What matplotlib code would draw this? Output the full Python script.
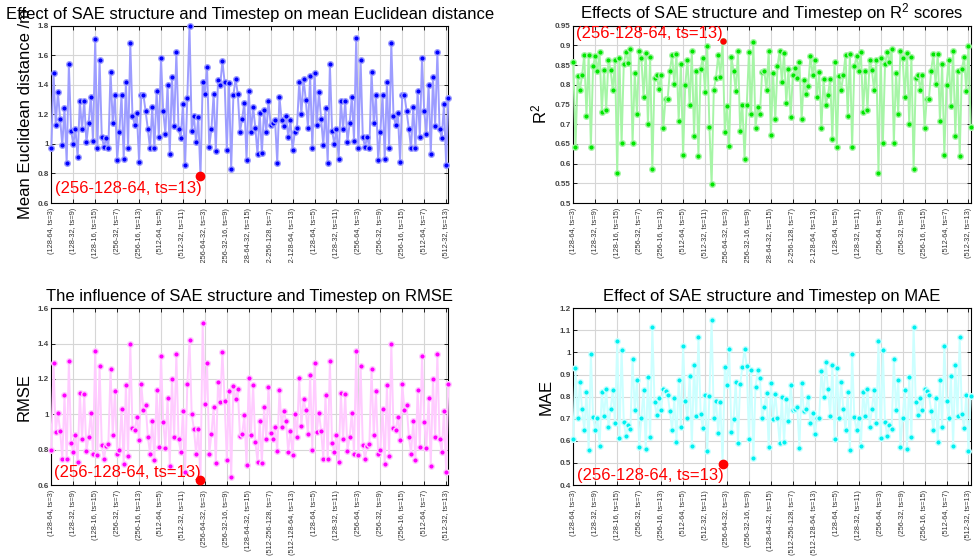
import matplotlib
matplotlib.use("Agg")
import matplotlib.pyplot as plt
import numpy as np
from matplotlib.patches import Rectangle
from matplotlib.ticker import FuncFormatter

plt.rcParams["font.family"] = ["Liberation Sans", "DejaVu Sans"]
plt.rcParams["mathtext.fontset"] = "custom"
plt.rcParams["mathtext.rm"] = "Liberation Sans"
plt.rcParams["mathtext.it"] = "Liberation Sans:italic"

# tick labels every 10 runs (structure, timestep)
tick_labels = [
    "(128-64, ts=3)", "(128-32, ts=9)", "(128-16, ts=15)", "(256-32, ts=7)",
    "(256-16, ts=13)", "(512-64, ts=5)", "(512-32, ts=11)", "(256-64-32, ts=3)",
    "(256-32-16, ts=9)", "(128-64-32, ts=15)", "(512-256-128, ts=7)",
    "(512-128-64, ts=13)", "(128-64, ts=5)", "(128-32, ts=11)", "(256-64, ts=3)",
    "(256-32, ts=9)", "(256-16, ts=15)", "(512-64, ts=7)", "(512-32, ts=13)",
]
best_label = "(256-128-64, ts=13)"

mean_dist = [
    0.97, 1.48, 1.13, 1.35, 1.17, 0.99, 1.24, 0.87, 1.54, 1.09,
    1.00, 1.10, 0.91, 1.29, 1.10, 1.29, 1.01, 1.14, 1.32, 1.02,
    1.71, 0.97, 1.57, 1.05, 0.98, 1.04, 0.97, 1.49, 1.14, 1.33,
    0.89, 1.08, 1.33, 0.90, 1.42, 0.97, 1.68, 1.19, 1.13, 1.21,
    0.88, 1.33, 1.33, 1.22, 1.10, 0.97, 1.25, 0.97, 1.36, 1.05,
    1.58, 1.22, 1.07, 1.40, 0.93, 1.45, 1.12, 1.62, 1.10, 1.04,
    1.27, 0.86, 1.31, 1.80, 1.09, 1.19, 1.01, 1.18, 0.78, 1.42,
    1.34, 1.52, 0.98, 1.10, 1.34, 0.95, 1.43, 1.40, 1.56, 1.42,
    0.96, 1.41, 0.83, 1.33, 1.44, 1.34, 1.08, 1.17, 1.28, 0.89,
    1.36, 1.08, 1.25, 1.11, 0.93, 1.21, 0.94, 1.23, 1.08, 1.29,
    1.13, 1.14, 1.16, 0.87, 1.32, 1.16, 1.12, 1.19, 1.05, 1.16,
    0.96, 1.08, 1.11, 1.42, 1.20, 1.44, 1.30, 1.11, 1.46,
    0.97, 1.48, 1.13, 1.35, 1.17, 0.99, 1.24, 0.87, 1.54, 1.09,
    1.00, 1.10, 0.90, 1.29, 1.10, 1.29, 1.01, 1.14, 1.32, 1.02,
    1.72, 0.97, 1.57, 1.05, 0.98, 1.05, 0.97, 1.49, 1.14, 1.33,
    0.89, 1.08, 1.33, 0.90, 1.42, 0.97, 1.68, 1.19, 1.13, 1.21,
    0.88, 1.33, 1.33, 1.22, 1.10, 0.97, 1.25, 0.97, 1.36, 1.05,
    1.58, 1.22, 1.07, 1.40, 0.93, 1.45, 1.12, 1.62, 1.10, 1.04,
    1.27, 0.86, 1.31,
]

r2_scores = [
    0.857, 0.641, 0.822, 0.786, 0.824, 0.876, 0.721, 0.876, 0.642, 0.847,
    0.873, 0.836, 0.883, 0.730, 0.837, 0.737, 0.864, 0.837, 0.786, 0.864,
    0.577, 0.869, 0.652, 0.853, 0.883, 0.856, 0.891, 0.653, 0.830, 0.727,
    0.886, 0.867, 0.769, 0.882, 0.701, 0.871, 0.586, 0.817, 0.825, 0.789,
    0.825, 0.691, 0.765, 0.765, 0.836, 0.876, 0.803, 0.877, 0.708, 0.853,
    0.622, 0.799, 0.864, 0.748, 0.886, 0.671, 0.835, 0.620, 0.841, 0.869,
    0.783, 0.898, 0.692, 0.548, 0.788, 0.818, 0.876, 0.821, 0.910, 0.680,
    0.747, 0.645, 0.870, 0.835, 0.784, 0.885, 0.684, 0.750, 0.612, 0.750,
    0.883, 0.727, 0.908, 0.691, 0.743, 0.725, 0.833, 0.835, 0.786, 0.886,
    0.672, 0.831, 0.712, 0.847, 0.887, 0.806, 0.880, 0.753, 0.840, 0.719,
    0.824, 0.843, 0.817, 0.858, 0.712, 0.813, 0.777, 0.798, 0.873, 0.824,
    0.864, 0.769, 0.833, 0.690, 0.814, 0.750, 0.775, 0.815, 0.663,
    0.858, 0.642, 0.823, 0.786, 0.825, 0.876, 0.722, 0.878, 0.642, 0.847,
    0.872, 0.836, 0.883, 0.730, 0.836, 0.737, 0.864, 0.838, 0.786, 0.864,
    0.577, 0.869, 0.652, 0.853, 0.883, 0.857, 0.892, 0.652, 0.831, 0.727,
    0.886, 0.867, 0.769, 0.882, 0.701, 0.871, 0.586, 0.818, 0.825, 0.788,
    0.825, 0.691, 0.765, 0.765, 0.836, 0.878, 0.803, 0.878, 0.708, 0.853,
    0.622, 0.799, 0.864, 0.747, 0.887, 0.671, 0.835, 0.620, 0.841, 0.870,
    0.784, 0.898, 0.692,
]

rmse = [
    0.798, 1.289, 0.898, 1.009, 0.908, 0.747, 1.108, 0.747, 1.302, 0.840,
    0.785, 0.881, 0.730, 1.123, 0.858, 1.113, 0.792, 0.872, 1.009, 0.777,
    1.360, 0.772, 1.275, 0.826, 0.747, 0.823, 0.830, 1.255, 0.881, 1.134,
    0.775, 0.796, 1.032, 0.717, 1.166, 0.764, 1.398, 0.923, 0.909, 0.987,
    0.855, 1.172, 1.025, 1.051, 0.874, 0.777, 0.962, 0.742, 1.138, 0.817,
    1.328, 0.957, 0.811, 1.094, 0.708, 1.202, 0.870, 1.342, 0.858, 0.787,
    1.021, 0.675, 1.170, 1.421, 1.000, 0.919, 0.775, 0.919, 0.628, 1.515,
    1.060, 1.291, 0.775, 0.889, 1.040, 0.723, 1.181, 1.068, 1.355, 1.077,
    0.742, 1.130, 0.645, 1.160, 1.085, 1.142, 0.877, 0.887, 0.994, 0.715,
    1.206, 0.885, 1.166, 0.845, 0.732, 0.962, 0.726, 1.040, 0.858, 1.157,
    0.896, 0.860, 0.926, 0.791, 1.136, 0.928, 1.021, 0.962, 0.787, 0.908,
    0.770, 1.004, 0.874, 1.206, 0.932, 1.087, 1.023, 0.887, 1.223,
    0.798, 1.289, 0.898, 1.009, 0.908, 0.747, 1.108, 0.747, 1.302, 0.840,
    0.785, 0.881, 0.730, 1.123, 0.858, 1.113, 0.792, 0.872, 1.009, 0.777,
    1.360, 0.772, 1.275, 0.826, 0.747, 0.823, 0.830, 1.255, 0.881, 1.134,
    0.775, 0.796, 1.032, 0.717, 1.166, 0.764, 1.398, 0.923, 0.909, 0.987,
    0.855, 1.172, 1.025, 1.051, 0.874, 0.777, 0.962, 0.742, 1.138, 0.817,
    1.328, 0.957, 0.811, 1.094, 0.708, 1.202, 0.870, 1.342, 0.858, 0.787,
    1.021, 0.675, 1.170,
]

mae = [
    0.610, 0.928, 0.702, 0.868, 0.743, 0.648, 0.820, 0.557, 0.993, 0.708,
    0.648, 0.703, 0.577, 0.823, 0.711, 0.836, 0.664, 0.743, 0.829, 0.679,
    1.052, 0.611, 1.013, 0.684, 0.622, 0.673, 0.655, 0.971, 0.738, 0.877,
    0.574, 0.705, 0.832, 0.563, 0.891, 0.617, 1.117, 0.774, 0.715, 0.792,
    0.741, 0.836, 0.827, 0.808, 0.734, 0.648, 0.792, 0.595, 0.877, 0.664,
    1.028, 0.779, 0.702, 0.894, 0.578, 0.943, 0.711, 1.069, 0.720, 0.658,
    0.809, 0.552, 0.803, 1.149, 0.702, 0.779, 0.637, 0.774, 0.495, 0.933,
    0.851, 1.015, 0.638, 0.697, 0.868, 0.592, 0.856, 0.933, 1.017, 0.937,
    0.607, 0.921, 0.524, 0.842, 0.919, 0.885, 0.702, 0.755, 0.817, 0.572,
    0.860, 0.697, 0.812, 0.703, 0.592, 0.797, 0.593, 0.788, 0.691, 0.851,
    0.740, 0.744, 0.752, 0.569, 0.864, 0.734, 0.746, 0.799, 0.681, 0.728,
    0.630, 0.702, 0.702, 0.915, 0.799, 0.955, 0.833, 0.711, 0.944,
    0.610, 0.928, 0.702, 0.868, 0.743, 0.648, 0.820, 0.557, 0.993, 0.708,
    0.648, 0.703, 0.577, 0.823, 0.711, 0.836, 0.664, 0.743, 0.829, 0.679,
    1.052, 0.611, 1.013, 0.684, 0.622, 0.673, 0.655, 0.971, 0.738, 0.877,
    0.574, 0.705, 0.832, 0.563, 0.891, 0.617, 1.117, 0.774, 0.715, 0.792,
    0.741, 0.836, 0.827, 0.808, 0.734, 0.648, 0.792, 0.595, 0.877, 0.664,
    1.028, 0.779, 0.702, 0.894, 0.578, 0.943, 0.711, 1.069, 0.720, 0.658,
    0.809, 0.552, 0.803,
]

fig = plt.figure(figsize=(9.74, 5.58), dpi=100)


def draw_panel(rect, values, line_color, dot_color, ylim, ystep, title, ylabel,
               best_idx, text_below, label_x, red_size):
    ax = fig.add_axes(rect)
    x = np.arange(1, len(values) + 1)
    ax.plot(x, values, color=line_color, lw=1.4, marker="o", ms=4.0,
            mfc=dot_color, mec=line_color, mew=1.0, zorder=3, clip_on=False)
    ax.plot(x[best_idx], values[best_idx], "o", color="red", ms=red_size,
            zorder=4, clip_on=False)
    if text_below:
        ax.annotate(best_label, (x[best_idx], values[best_idx]), xytext=(1, -3),
                    textcoords="offset points", ha="right", va="top",
                    color="red", fontsize=12, zorder=5)
    else:
        ax.annotate(best_label, (x[best_idx], values[best_idx]), xytext=(0, 0),
                    textcoords="offset points", ha="right", va="bottom",
                    color="red", fontsize=12, zorder=5)

    ax.set_xlim(1, len(values))
    ax.set_ylim(*ylim)
    ax.set_xticks(np.arange(1, len(values) + 1, 10))
    ax.set_xticklabels(tick_labels, rotation=90, fontsize=5.3, color="#333333")
    ax.set_yticks(np.arange(ylim[0], ylim[1] + ystep / 2, ystep))
    ax.yaxis.set_major_formatter(FuncFormatter(lambda v, _: f"{v:g}"))
    for lab in ax.get_yticklabels():
        lab.set_fontsize(5.8)
        lab.set_fontweight("bold")
        lab.set_color("#444444")
    ax.tick_params(direction="in", length=3, width=0.6, top=True, right=True, pad=2)
    ax.tick_params(axis="x", pad=3.5)
    ax.grid(True, color="#d6d6d6", lw=0.8)
    ax.set_axisbelow(True)
    for sp in ax.spines.values():
        sp.set_linewidth(0.8)
        sp.set_color("black")
    ax.set_title(title, fontsize=12, pad=5)
    ax.set_ylabel(ylabel, fontsize=12)
    ax.yaxis.set_label_coords(label_x, 0.5)
    return ax


draw_panel([0.0527, 0.6362, 0.4076, 0.3177], mean_dist, "#9d9dff", "#0000ff",
           (0.6, 1.8), 0.2,
           "Effect of SAE structure and Timestep on mean Euclidean distance",
           "Mean Euclidean distance /m", int(np.argmin(mean_dist)), True, -0.045, 6)
draw_panel([0.5886, 0.6362, 0.4080, 0.3177], r2_scores, "#a6f5a6", "#00e600",
           (0.5, 0.95), 0.05,
           "Effects of SAE structure and Timestep on R$^2$ scores",
           "R$^2$", int(np.argmax(r2_scores)), False, -0.059, 3.6)
draw_panel([0.0527, 0.1308, 0.4076, 0.3167], rmse, "#ffccff", "#ff00ff",
           (0.6, 1.6), 0.2,
           "The influence of SAE structure and Timestep on RMSE",
           "RMSE", int(np.argmin(rmse)), False, -0.049, 6)
draw_panel([0.5886, 0.1308, 0.4080, 0.3167], mae, "#ccffff", "#00f0f0",
           (0.4, 1.2), 0.1,
           "Effect of SAE structure and Timestep on MAE",
           "MAE", int(np.argmin(mae)), True, -0.049, 6)

# the long tick labels of the upper row are cut off above the lower titles
fig.patches.append(Rectangle((0, 1 - 285 / 558), 1, 22 / 558, transform=fig.transFigure,
                             facecolor="white", edgecolor="none", zorder=2))

fig.savefig("out.png", dpi=100)
